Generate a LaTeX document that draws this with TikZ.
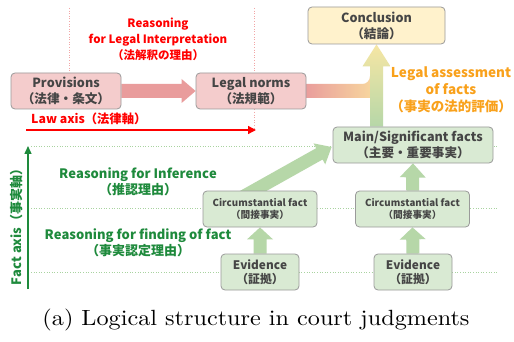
\documentclass[tikz,border=0pt]{standalone}
\usepackage{fontspec}
\newfontfamily\jp{Noto Sans CJK JP}[Kerning=Off]
\newfontfamily\capfont{lmroman10-regular}[Extension=.otf]
\usetikzlibrary{calc,arrows.meta}
\pgfdeclarelayer{bg}
\pgfsetlayers{bg,main}
\definecolor{pinkfill}{HTML}{F4CCCC}
\definecolor{pinkarr}{HTML}{E99C9C}
\definecolor{greenfill}{HTML}{D9EAD3}
\definecolor{greenarr}{HTML}{B6D7A8}
\definecolor{yellowfill}{HTML}{FFF2CC}
\definecolor{boxline}{HTML}{9A9A9A}
\definecolor{boxtext}{HTML}{454545}
\definecolor{lawred}{HTML}{FF0000}
\definecolor{factgreen}{HTML}{1E8A3C}
\definecolor{assessorange}{HTML}{F9A11B}
\definecolor{gradyellow}{HTML}{F8DA9E}
\definecolor{topyellow}{HTML}{F6E6A4}
\definecolor{reddot}{HTML}{F2A6A6}
\definecolor{greendot}{HTML}{A9D3A0}
% block arrow: style, from, to, shaft half width, head half width, head length
\newcommand\blockarrow[6]{%
  \coordinate (ba-A) at (#2);
  \coordinate (ba-B) at (#3);
  \coordinate (ba-H) at ($(ba-B)!#6!(ba-A)$);
  \path[#1] ($(ba-A)!#4!90:(ba-B)$) -- ($(ba-H)!#4!90:(ba-B)$)
    -- ($(ba-H)!#5!90:(ba-B)$) -- (ba-B) -- ($(ba-H)!#5!-90:(ba-B)$)
    -- ($(ba-H)!#4!-90:(ba-B)$) -- ($(ba-A)!#4!-90:(ba-B)$) -- cycle;}
\tikzset{
  box/.style={draw=boxline, line width=0.8pt, rounded corners=4pt, align=center,
    text=boxtext, font=\jp\bfseries\fontsize{12.6}{16}\selectfont, inner sep=0pt},
  pinkbox/.style={box, fill=pinkfill, minimum width=110pt, minimum height=36pt},
  yellowbox/.style={box, fill=yellowfill},
  greenbox/.style={box, fill=greenfill},
  smallbox/.style={greenbox, font=\jp\bfseries\fontsize{9.7}{12}\selectfont,
    minimum width=114pt, minimum height=36pt},
  evbox/.style={greenbox, font=\jp\bfseries\fontsize{11.8}{14}\selectfont,
    minimum width=78pt, minimum height=36pt},
  lbl/.style={align=center, font=\jp\bfseries\fontsize{11.5}{16}\selectfont, inner sep=0pt},
  redlbl/.style={lbl, text=lawred},
  greenlbl/.style={lbl, text=factgreen, font=\jp\bfseries\fontsize{13}{16}\selectfont},
  orangelbl/.style={lbl, text=assessorange, font=\jp\bfseries\fontsize{13.5}{17}\selectfont},
  greenblock/.style={fill=greenarr},
  reddots/.style={draw=reddot, dotted, line width=0.6pt},
  greendots/.style={draw=greendot, dotted, line width=0.6pt},
}
\begin{document}
\begin{tikzpicture}[x=1pt,y=-1pt]
\begin{pgfonlayer}{bg}
\fill[white] (0,0) rectangle (514,342);
\end{pgfonlayer}
\useasboundingbox (0,0) rectangle (514,342);
% boxes
\node[pinkbox] (prov) at (66,91) {Provisions\\（法律・条文）};
\node[pinkbox] (norms) at (251,91) {Legal norms\\（法規範）};
\node[yellowbox, minimum width=137pt, minimum height=37pt] (concl) at (376.5,25.5) {Conclusion\\（結論）};
\node[greenbox, minimum width=160pt, minimum height=36pt] (main) at (413,145) {Main/Significant facts\\（主要・重要事実）};
\node[smallbox] (circ1) at (260,209) {Circumstantial fact\\（間接事実）};
\node[smallbox] (circ2) at (412.5,209) {Circumstantial fact\\（間接事実）};
\node[evbox] (ev1) at (260,272) {Evidence\\（証拠）};
\node[evbox] (ev2) at (413,272) {Evidence\\（証拠）};
% labels
\node[redlbl] (interp) at (158,39) {Reasoning\\for Legal Interpretation\\（法解釈の理由）};
\node[redlbl, anchor=west, font=\jp\bfseries\fontsize{12.3}{16}\selectfont] (lawlbl) at (31,119) {Law axis（法律軸）};
\node[orangelbl] (assess) at (451,90) {Legal assessment\\of facts\\（事実の法的評価）};
\node[greenlbl] (infer) at (138,182) {Reasoning for Inference\\（推認理由）};
\node[greenlbl] (finding) at (138,242.5) {Reasoning for finding of fact\\（事実認定理由）};
\node[greenlbl, rotate=90] (factlbl) at (17,224) {Fact axis（事実軸）};
% axes
\coordinate (lawS) at (26,130);
\coordinate (lawE) at (256,130);
\draw[lawred, line width=1.4pt, -{Triangle[length=8pt,width=8pt]}] (lawS) -- (lawE);
\coordinate (factS) at (28,289);
\coordinate (factE) at (28,146);
\draw[factgreen, line width=1.4pt, -{Triangle[length=8pt,width=7pt]}] (factS) -- (factE);
\begin{pgfonlayer}{bg}
  % guide lines
  \draw[reddots] (69,8) -- (prov.north -| 69,0);
  \draw[reddots] (254,8) -- (254,128);
  \foreach \yy in {146,208,272} \draw[greendots] (31,\yy) -- (497,\yy);
  % provisions -> legal norms
  \blockarrow{fill=pinkarr}{prov.east}{norms.west}{7pt}{12pt}{14pt}
  % legal norms -> conclusion (merging bar)
  \coordinate (jtop) at (main.north -| concl.south);
  \path[left color=pinkarr, right color=gradyellow]
    ($(norms.east)+(-2,-7)$) -- ($(jtop |- norms.east)+(-14,-7)$)
    to[out=0,in=-90] ($(jtop |- norms.east)+(-6.5,-15)$)
    -- ($(jtop |- norms.east)+(0,-15)$) -- ($(jtop |- norms.east)+(0,7)$)
    -- ($(norms.east)+(-2,7)$) -- cycle;
  % main facts -> conclusion
  \blockarrow{bottom color=greenarr, top color=topyellow}{jtop}{concl.south}{6.5pt}{14pt}{22pt}
  % evidence -> circumstantial
  \blockarrow{greenblock}{ev1.north}{circ1.south}{6.5pt}{13pt}{12pt}
  \blockarrow{greenblock}{ev2.north}{circ2.south}{6.5pt}{13pt}{12pt}
  % circumstantial -> main
  \blockarrow{greenblock}{circ2.north}{main.south}{6.5pt}{13pt}{14pt}
  \blockarrow{greenblock}{$(circ1.center)+(-39,0)$}{$(main.west)+(-1,2)$}{6.5pt}{12pt}{14pt}
\end{pgfonlayer}
% caption
\node[font=\capfont\fontsize{22}{26}\selectfont, xscale=1.1] (cap) at (256,320) {(a) Logical structure in court judgments};
\end{tikzpicture}
\end{document}
